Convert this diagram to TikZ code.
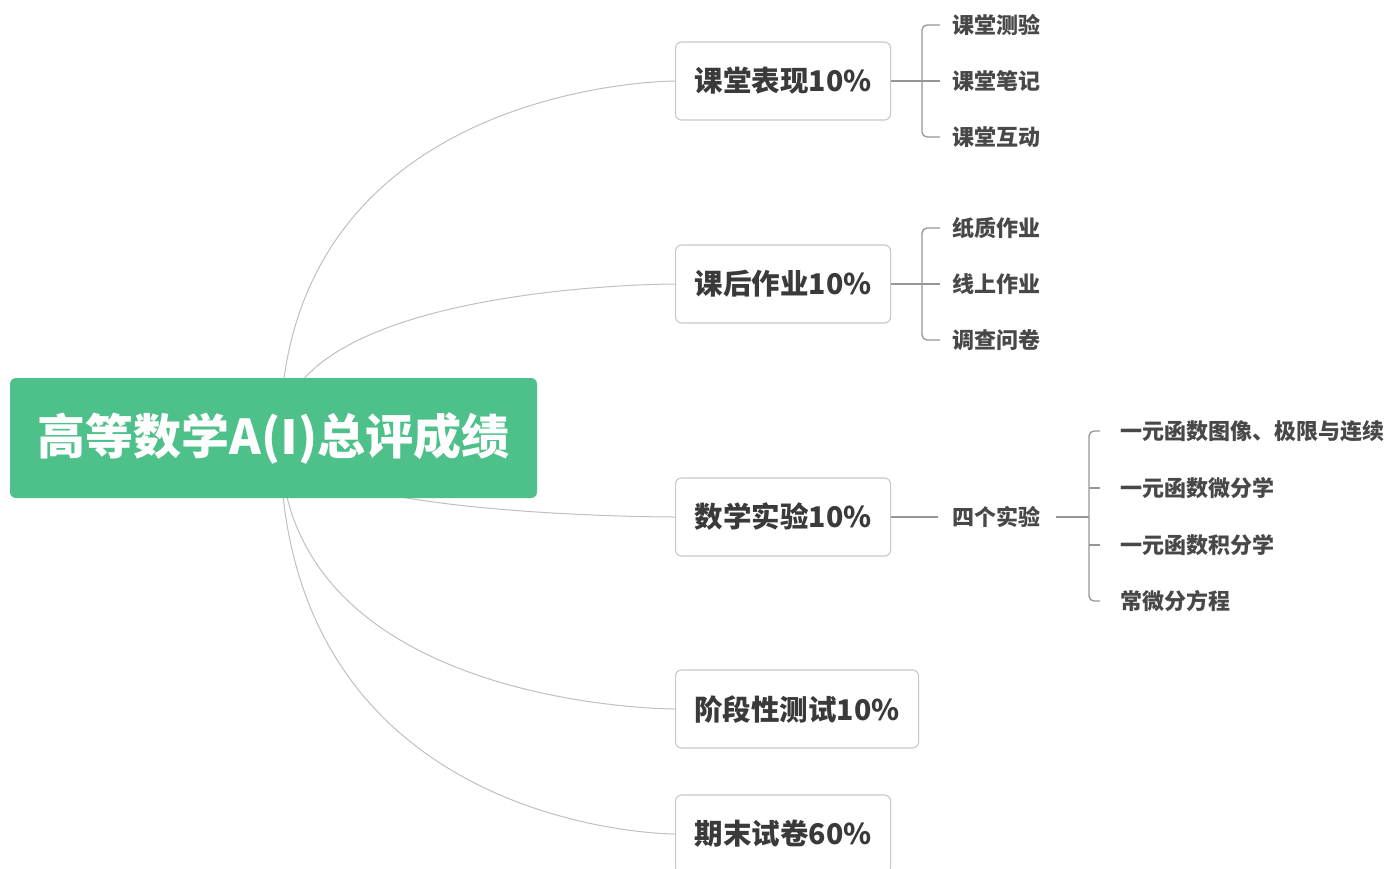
\documentclass[tikz,border=0pt]{standalone}
\usepackage{fontspec}
\setmainfont{Noto Sans CJK SC}
\newfontfamily\romfont{DejaVu Sans}
\definecolor{rootgreen}{RGB}{78,192,138}
\definecolor{boxline}{RGB}{200,200,200}
\definecolor{curveline}{RGB}{192,192,192}
\definecolor{brkline}{RGB}{150,150,150}
\definecolor{boxtext}{RGB}{58,58,58}
\definecolor{leaftext}{RGB}{72,72,72}
\begin{document}
\begin{tikzpicture}[x=1pt,y=-1pt,
  rootbox/.style={fill=rootgreen, rounded corners=6pt, minimum width=527pt, minimum height=120pt, inner sep=0pt,
    text=white, font=\fontsize{48}{52}\selectfont\bfseries},
  catbox/.style={draw=boxline, line width=1.1pt, fill=white, rounded corners=6pt, minimum height=78pt, inner sep=0pt,
    anchor=west, text=boxtext, font=\fontsize{28.5}{32}\selectfont\bfseries},
  leaf/.style={anchor=west, inner sep=0pt, text=leaftext, font=\fontsize{22}{25}\selectfont\bfseries},
  curve/.style={draw=curveline, line width=1pt},
  brk/.style={draw=brkline, line width=1.3pt, rounded corners=5pt},
  link/.style={draw=brkline, line width=1.4pt}
]
\useasboundingbox (0,0) rectangle (1391,868);
\fill[white] (0,0) rectangle (1391,868);

% category boxes
\node[catbox, minimum width=215pt] (b1) at (675,81) {课堂表现10\%};
\node[catbox, minimum width=215pt] (b2) at (675,284) {课后作业10\%};
\node[catbox, minimum width=215pt] (b3) at (675,517) {数学实验10\%};
\node[catbox, minimum width=243pt] (b4) at (675,709) {阶段性测试10\%};
\node[catbox, minimum width=215pt] (b5) at (675,834) {期末试卷60\%};

% leaves of b1
\node[leaf] (l11) at (952,25) {课堂测验};
\node[leaf] (l12) at (952,81) {课堂笔记};
\node[leaf] (l13) at (952,137) {课堂互动};
% leaves of b2
\node[leaf] (l21) at (952,228) {纸质作业};
\node[leaf] (l22) at (952,284) {线上作业};
\node[leaf] (l23) at (952,340) {调查问卷};
% b3 sub
\node[leaf] (s3) at (952,517) {四个实验};
\node[leaf] (l31) at (1120,431) {一元函数图像、极限与连续};
\node[leaf] (l32) at (1120,488) {一元函数微分学};
\node[leaf] (l33) at (1120,545) {一元函数积分学};
\node[leaf] (l34) at (1120,601) {常微分方程};

% brackets b1
\draw[brk] ([xshift=-12pt]l11.west) -| ([xshift=-30pt]l13.west) -- ([xshift=-12pt]l13.west);
\draw[link] (b1.east) -- ([xshift=-12pt]l12.west);
% brackets b2
\draw[brk] ([xshift=-12pt]l21.west) -| ([xshift=-30pt]l23.west) -- ([xshift=-12pt]l23.west);
\draw[link] (b2.east) -- ([xshift=-12pt]l22.west);
% b3
\draw[link, line width=1.2pt] (b3.east) -- ([xshift=-14pt]s3.west);
\draw[brk] ([xshift=-20pt]l31.west) -| ([xshift=-31pt]l34.west) -- ([xshift=-20pt]l34.west);
\draw[brk] ([xshift=-20pt]l32.west) -- ([xshift=-31pt]l32.west);
\draw[brk] ([xshift=-20pt]l33.west) -- ([xshift=-31pt]l33.west);
\draw[link, line width=2pt] ([xshift=16pt]s3.east) -- ([xshift=-31pt]s3.east -| l31.west);

% curves from root
\coordinate (rc) at (280,438);
\foreach \b in {b1,b2,b3,b4,b5}{
  \draw[curve] (rc) .. controls (rc |- \b.west) and (\b.west) .. (\b.west);
}

% root
\node[rootbox] (root) at (273.5,438) {高等数学A({\romfont Ⅰ})总评成绩};
\end{tikzpicture}
\end{document}
